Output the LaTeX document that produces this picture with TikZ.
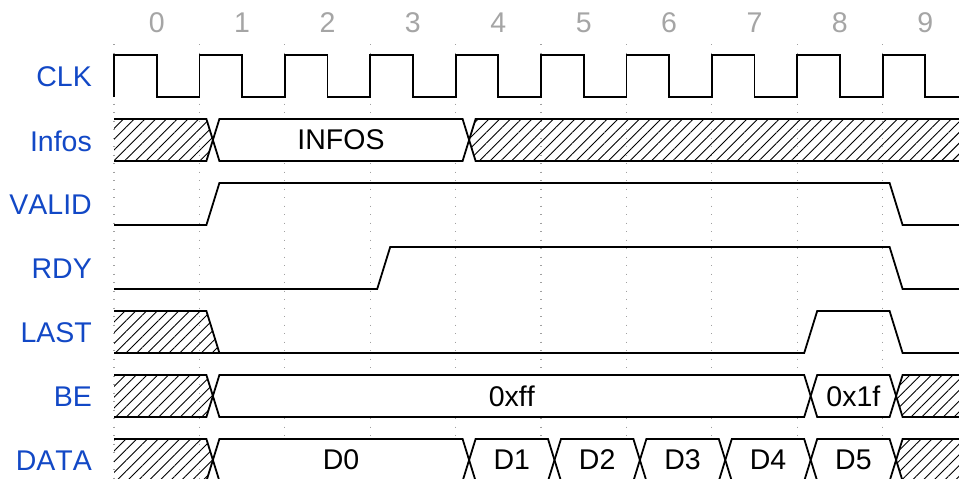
\documentclass[tikz,border=0pt]{standalone}
\usepackage{fontspec}
\setmainfont[Kerning=Off]{Liberation Sans}
\usetikzlibrary{patterns.meta}

\definecolor{sigblue}{RGB}{18,72,198}
\definecolor{numgray}{RGB}{165,165,165}
\definecolor{gridgray}{RGB}{160,160,160}

\tikzset{
  sig/.style={line width=1.8pt, line join=miter, black},
  hatch/.style={pattern={Lines[angle=45,distance=7.6pt,line width=0.9pt]}},
  signame/.style={anchor=east, text=sigblue, inner sep=0pt, font=\fontsize{28.5}{30}\selectfont},
  cyc/.style={text=numgray, inner sep=0pt, font=\fontsize{28.5}{30}\selectfont},
  val/.style={inner sep=0pt, font=\fontsize{28.5}{30}\selectfont},
  gridline/.style={gridgray, line width=1.3pt, dash pattern=on 1.4pt off 7.1pt},
}

% edge n sits at x = 114 + 85.4 n; a transition runs from edge+7 to edge+20
% bus value between edges #2 and #3 on the row whose top is #1
\newcommand\busval[6]{%
  \pgfmathsetmacro\xl{114+85.4*#2}%
  \pgfmathsetmacro\xr{114+85.4*#3}%
  \draw[sig,#4] (\xl+13.5,#1+21) -- (\xl+20,#1) -- (\xr+7,#1) -- (\xr+13.5,#1+21)
    -- (\xr+7,#1+42) -- (\xl+20,#1+42) -- cycle;
  \node[val] (#5) at ({(\xl+\xr)/2+13.5},#1+21) {#6};
}
% hatched value from the left border up to edge #2
\newcommand\busleft[2]{%
  \pgfmathsetmacro\xr{114+85.4*#2}%
  \fill[hatch] (114,#1) -- (\xr+7,#1) -- (\xr+13.5,#1+21) -- (\xr+7,#1+42) -- (114,#1+42) -- cycle;
  \draw[sig] (114,#1) -- (\xr+7,#1) -- (\xr+13.5,#1+21) -- (\xr+7,#1+42) -- (114,#1+42);
}
% hatched value from edge #2 to the right border
\newcommand\busright[2]{%
  \pgfmathsetmacro\xl{114+85.4*#2}%
  \fill[hatch] (970,#1) -- (\xl+20,#1) -- (\xl+13.5,#1+21) -- (\xl+20,#1+42) -- (970,#1+42) -- cycle;
  \draw[sig] (970,#1) -- (\xl+20,#1) -- (\xl+13.5,#1+21) -- (\xl+20,#1+42) -- (970,#1+42);
}

\begin{document}
\begin{tikzpicture}[x=1pt,y=-1pt]
\useasboundingbox (0,0) rectangle (959,479);
\fill[white] (0,0) rectangle (959,479);

% signal names
\node[signame] (nclk)   at (92,77)  {CLK};
\node[signame] (ninfos) at (92,141) {Infos};
\node[signame] (nvalid) at (92,205) {VALID};
\node[signame] (nrdy)   at (92,269) {RDY};
\node[signame] (nlast)  at (92,333) {LAST};
\node[signame] (nbe)    at (92,397) {BE};
\node[signame] (ndata)  at (92,461) {DATA};

% cycle numbers
\foreach \n in {0,...,9}
  \node[cyc] (cyc\n) at ({114+85.4*(\n+0.5)},23) {\n};

\begin{scope}
\clip (0,0) rectangle (959,479);

% grid at every rising edge
\foreach \n in {0,...,9}
  \draw[gridline] ({114+85.4*\n},44) -- ({114+85.4*\n},480);

% CLK
\draw[sig] (114,97) foreach \n in {0,...,9} { -- ++(0,-42) -- ++(42.7,0) -- ++(0,42) -- ++(42.7,0) };

% Infos
\busleft{119}{1}
\busval{119}{1}{4}{fill=white}{vinfos}{INFOS}
\busright{119}{4}

% VALID
\draw[sig] (114,225) -- (206.4,225) -- (219.4,183) -- (889.6,183) -- (902.6,225) -- (970,225);

% RDY
\draw[sig] (114,289) -- (377.2,289) -- (390.2,247) -- (889.6,247) -- (902.6,289) -- (970,289);

% LAST
\fill[hatch] (114,311) -- (206.4,311) -- (219.4,353) -- (114,353) -- cycle;
\draw[sig] (114,311) -- (206.4,311) -- (219.4,353);
\draw[sig] (114,353) -- (804.2,353) -- (817.2,311) -- (889.6,311) -- (902.6,353) -- (970,353);

% BE
\busleft{375}{1}
\busval{375}{1}{8}{fill=white}{vbe0}{0xff}
\busval{375}{8}{9}{fill=white}{vbe1}{0x1f}
\busright{375}{9}

% DATA
\busleft{439}{1}
\busval{439}{1}{4}{fill=white}{vd0}{D0}
\busval{439}{4}{5}{fill=white}{vd1}{D1}
\busval{439}{5}{6}{fill=white}{vd2}{D2}
\busval{439}{6}{7}{fill=white}{vd3}{D3}
\busval{439}{7}{8}{fill=white}{vd4}{D4}
\busval{439}{8}{9}{fill=white}{vd5}{D5}
\busright{439}{9}
\end{scope}
\end{tikzpicture}
\end{document}
